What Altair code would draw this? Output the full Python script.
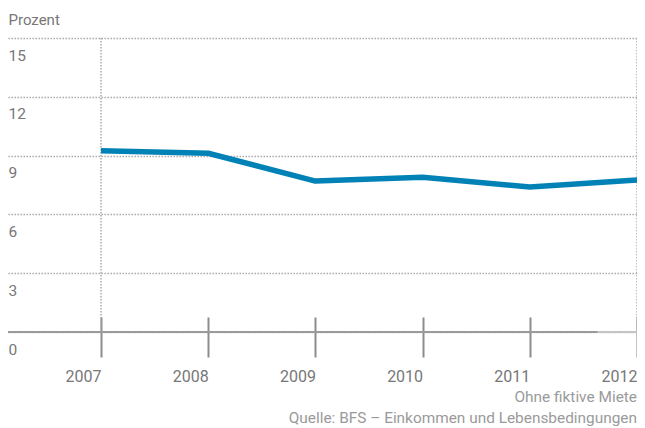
import altair as alt
import pandas as pd

years = [2007, 2008, 2009, 2010, 2011, 2012]
values = [9.25, 9.12, 7.7, 7.9, 7.4, 7.75]
y_ticks = [0, 3, 6, 9, 12, 15]
grid_years = [2007, 2012]
x_domain = [2006.1325, 2012]
zero_dark = {"x": [2006.1325], "x2": [2011.63], "y": [0]}
y_title = "Prozent"
note1 = "Ohne fiktive Miete"
note2 = "Quelle: BFS \u2013 Einkommen und Lebensbedingungen"

FONT = "Roboto"
LABEL = "#777777"
NOTE = "#9a9a9a"
W = 629

df = pd.DataFrame({"year": years, "value": values})
xs = alt.Scale(domain=x_domain, nice=False, zero=False)
ys = alt.Scale(domain=[0, 15], nice=False)

x_axis = alt.Axis(
    values=years, format="d", orient="bottom", offset=-15, tickSize=40, tickWidth=2,
    tickColor="#8c8c8c", domain=False, grid=False, labelAlign="right",
    labelBaseline="alphabetic", labelPadding=24, labelFlush=False, labelOverlap=False,
    labelFont=FONT, labelFontSize=16, labelColor=LABEL, title=None,
)
y_axis = alt.Axis(
    values=y_ticks, grid=True, gridDash=[1.5, 1.5], gridColor="#aaaaaa", gridWidth=1.5,
    ticks=False, domain=False, labelAlign="left", labelBaseline="alphabetic",
    labelOffset=22, labelPadding=0, labelOverlap=False, labelFont=FONT, labelFontSize=15.5,
    labelColor=LABEL, title=y_title, titleAngle=0, titleAlign="left", titleBaseline="alphabetic",
    titleX=0, titleY=-14, titleFont=FONT, titleFontSize=15, titleFontWeight="normal",
    titleColor=LABEL,
)

grid_v = alt.Chart(pd.DataFrame({"year": grid_years, "top": [15, 15], "bot": [0, 0]})).mark_rule(
    color="#aaaaaa", strokeWidth=1.5, strokeDash=[1.5, 1.5]
).encode(
    x=alt.X("year:Q", scale=xs, axis=x_axis),
    y=alt.Y("top:Q", scale=ys, axis=y_axis),
    y2="bot:Q",
)

zero_light = alt.Chart(pd.DataFrame({"y": [0]})).mark_rule(color="#c4c4c4", strokeWidth=2).encode(
    y=alt.Y("y:Q", scale=ys, axis=y_axis)
)
zero_d = alt.Chart(pd.DataFrame(zero_dark)).mark_rule(color="#9a9a9a", strokeWidth=2).encode(
    x=alt.X("x:Q", scale=xs, axis=x_axis),
    x2="x2:Q",
    y=alt.Y("y:Q", scale=ys, axis=y_axis),
)

line = alt.Chart(df).mark_line(color="#0082b6", strokeWidth=5.5, strokeJoin="round").encode(
    x=alt.X("year:Q", scale=xs, axis=x_axis),
    y=alt.Y("value:Q", scale=ys, axis=y_axis),
)

note_a = alt.Chart(pd.DataFrame({"t": [note1]})).mark_text(
    align="right", baseline="alphabetic", font=FONT, fontSize=15.4, color=NOTE
).encode(text="t:N", x=alt.value(W), y=alt.value(364))
note_b = alt.Chart(pd.DataFrame({"t": [note2]})).mark_text(
    align="right", baseline="alphabetic", font=FONT, fontSize=15.4, color=NOTE
).encode(text="t:N", x=alt.value(W), y=alt.value(385))

chart = alt.layer(grid_v, zero_light, zero_d, line, note_a, note_b).properties(
    width=W, height=294,
    padding={"left": 0, "top": 30, "right": 0, "bottom": 96},
    autosize=alt.AutoSizeParams(type="none"),
).configure_view(stroke=None)

chart.save("out.html", embed_options={"renderer": "svg", "actions": False})
